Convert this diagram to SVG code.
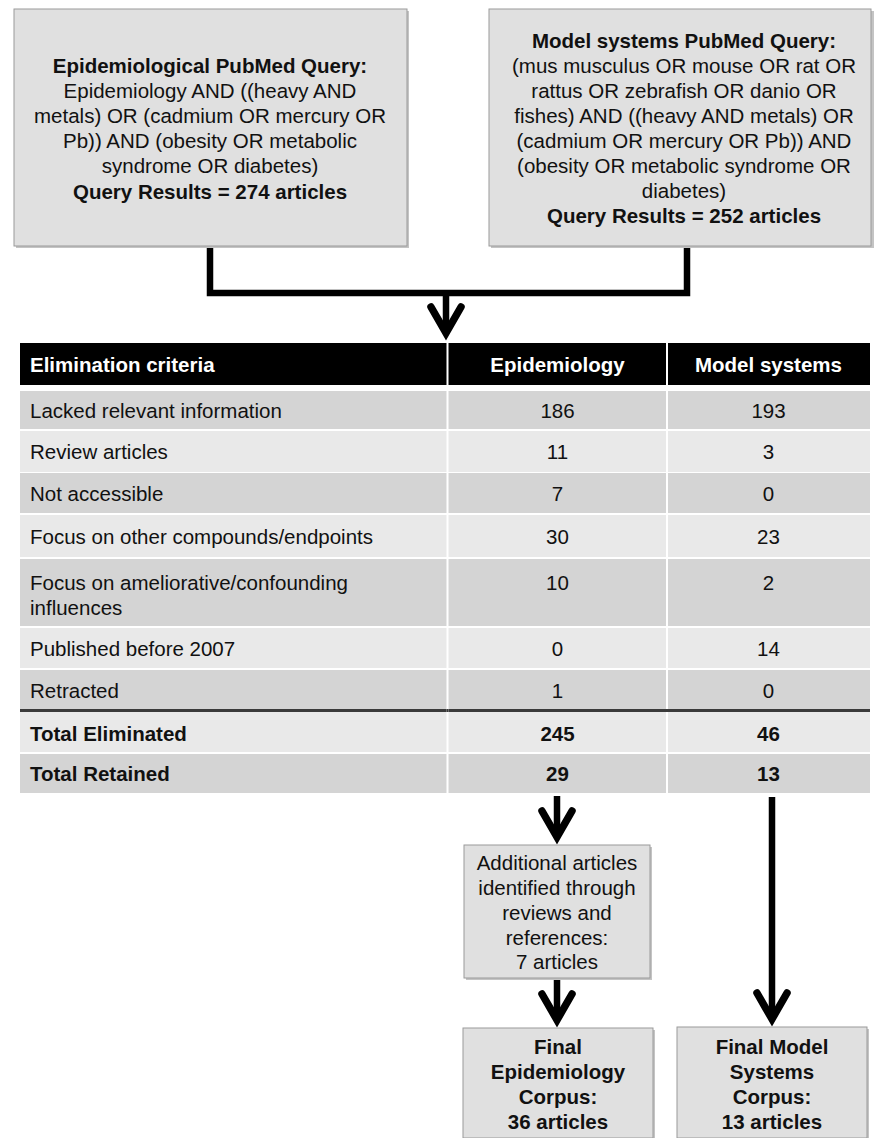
<svg xmlns="http://www.w3.org/2000/svg" width="874" height="1138" viewBox="0 0 874 1138">
<style>
text{font-family:"Liberation Sans",Arial,Helvetica,sans-serif;font-size:20.5px;fill:#111}
.b{font-weight:bold}
.c{text-anchor:middle}
.w{fill:#fff}
.box{fill:#e0e0e0;stroke:#9a9a9a;stroke-width:1}
.sh{fill:#c4c4c4}
.dk{fill:#d4d4d4}
.lt{fill:#e9e9e9}
.con{fill:none;stroke:#000;stroke-width:6.5;stroke-linejoin:miter}
.head{fill:none;stroke:#000;stroke-width:7.5;stroke-linecap:round;stroke-linejoin:miter}
</style>
<rect width="874" height="1138" fill="#fff"/>

<g id="connectors">
<path class="con" d="M210 246 V293 H687 V246"/>
<path class="con" d="M446 293 V333"/>
<path class="head" d="M431 307 L446 333 L461 307"/>
<path class="con" d="M557 796 V837"/>
<path class="head" d="M542 811 L557 837 L572 811"/>
<path class="con" d="M557 978 V1020"/>
<path class="head" d="M542 994 L557 1020 L572 994"/>
<path class="con" d="M772 797 V1019"/>
<path class="head" d="M757 993 L772 1019 L787 993"/>
</g>

<g id="epi-query">
<rect class="sh" x="16" y="11" width="393" height="237"/>
<rect class="box" x="14" y="9" width="393" height="237"/>
<text class="c b" x="210" y="73">Epidemiological PubMed Query:</text>
<text class="c" x="210" y="98">Epidemiology AND ((heavy AND</text>
<text class="c" x="210" y="123">metals) OR (cadmium OR mercury OR</text>
<text class="c" x="210" y="148">Pb)) AND (obesity OR metabolic</text>
<text class="c" x="210" y="173">syndrome OR diabetes)</text>
<text class="c b" x="210" y="199">Query Results = 274 articles</text>
</g>

<g id="model-query">
<rect class="sh" x="491" y="11" width="383" height="237"/>
<rect class="box" x="489" y="9" width="382" height="237"/>
<text class="c b" x="684" y="48">Model systems PubMed Query:</text>
<text class="c" x="684" y="73">(mus musculus OR mouse OR rat OR</text>
<text class="c" x="684" y="98">rattus OR zebrafish OR danio OR</text>
<text class="c" x="684" y="123">fishes) AND ((heavy AND metals) OR</text>
<text class="c" x="684" y="148">(cadmium OR mercury OR Pb)) AND</text>
<text class="c" x="684" y="173">(obesity OR metabolic syndrome OR</text>
<text class="c" x="684" y="198">diabetes)</text>
<text class="c b" x="684" y="223">Query Results = 252 articles</text>
</g>

<g id="table">
<rect x="20" y="343" width="850" height="42" fill="#000"/>
<rect class="dk" x="20" y="391" width="850" height="38"/>
<rect class="lt" x="20" y="431" width="850" height="41"/>
<rect class="dk" x="20" y="473" width="850" height="40"/>
<rect class="lt" x="20" y="515" width="850" height="42"/>
<rect class="dk" x="20" y="559" width="850" height="67"/>
<rect class="lt" x="20" y="628" width="850" height="40"/>
<rect class="dk" x="20" y="670" width="850" height="39"/>
<rect x="20" y="709" width="850" height="3" fill="#3a3a3a"/>
<rect class="lt" x="20" y="712" width="850" height="40"/>
<rect class="dk" x="20" y="754" width="850" height="39"/>
<rect x="446.5" y="343" width="2" height="450" fill="#fff"/>
<rect x="666" y="343" width="2" height="450" fill="#fff"/>
<rect x="446.5" y="709" width="2" height="3" fill="#3a3a3a"/>
<rect x="666" y="709" width="2" height="3" fill="#3a3a3a"/>

<text class="b w" x="30" y="371.5">Elimination criteria</text>
<text class="b w c" x="557.5" y="371.5">Epidemiology</text>
<text class="b w c" x="768.5" y="371.5">Model systems</text>

<text x="30" y="417.5">Lacked relevant information</text>
<text class="c" x="557.5" y="417.5">186</text>
<text class="c" x="768.5" y="417.5">193</text>

<text x="30" y="459">Review articles</text>
<text class="c" x="557.5" y="459">11</text>
<text class="c" x="768.5" y="459">3</text>

<text x="30" y="500.5">Not accessible</text>
<text class="c" x="557.5" y="500.5">7</text>
<text class="c" x="768.5" y="500.5">0</text>

<text x="30" y="543.5">Focus on other compounds/endpoints</text>
<text class="c" x="557.5" y="543.5">30</text>
<text class="c" x="768.5" y="543.5">23</text>

<text x="30" y="589.5">Focus on ameliorative/confounding</text>
<text x="30" y="614.5">influences</text>
<text class="c" x="557.5" y="589.5">10</text>
<text class="c" x="768.5" y="589.5">2</text>

<text x="30" y="656">Published before 2007</text>
<text class="c" x="557.5" y="656">0</text>
<text class="c" x="768.5" y="656">14</text>

<text x="30" y="698">Retracted</text>
<text class="c" x="557.5" y="698">1</text>
<text class="c" x="768.5" y="698">0</text>

<text class="b" x="30" y="740.5">Total Eliminated</text>
<text class="b c" x="557.5" y="740.5">245</text>
<text class="b c" x="768.5" y="740.5">46</text>

<text class="b" x="30" y="780.5">Total Retained</text>
<text class="b c" x="557.5" y="780.5">29</text>
<text class="b c" x="768.5" y="780.5">13</text>
</g>

<g id="additional">
<rect class="sh" x="466" y="847" width="186" height="133"/>
<rect class="box" x="464" y="845" width="186" height="133"/>
<text class="c" x="557" y="870">Additional articles</text>
<text class="c" x="557" y="895">identified through</text>
<text class="c" x="557" y="920">reviews and</text>
<text class="c" x="557" y="945">references:</text>
<text class="c" x="557" y="969">7 articles</text>
</g>

<g id="final-epi">
<rect class="sh" x="465" y="1030" width="190" height="110"/>
<rect class="box" x="463" y="1028" width="190" height="110"/>
<text class="c b" x="558" y="1054">Final</text>
<text class="c b" x="558" y="1079">Epidemiology</text>
<text class="c b" x="558" y="1104">Corpus:</text>
<text class="c b" x="558" y="1129">36 articles</text>
</g>

<g id="final-model">
<rect class="sh" x="679" y="1029" width="190" height="110"/>
<rect class="box" x="677" y="1027" width="190" height="111"/>
<text class="c b" x="772" y="1054">Final Model</text>
<text class="c b" x="772" y="1079">Systems</text>
<text class="c b" x="772" y="1104">Corpus:</text>
<text class="c b" x="772" y="1129">13 articles</text>
</g>
</svg>
